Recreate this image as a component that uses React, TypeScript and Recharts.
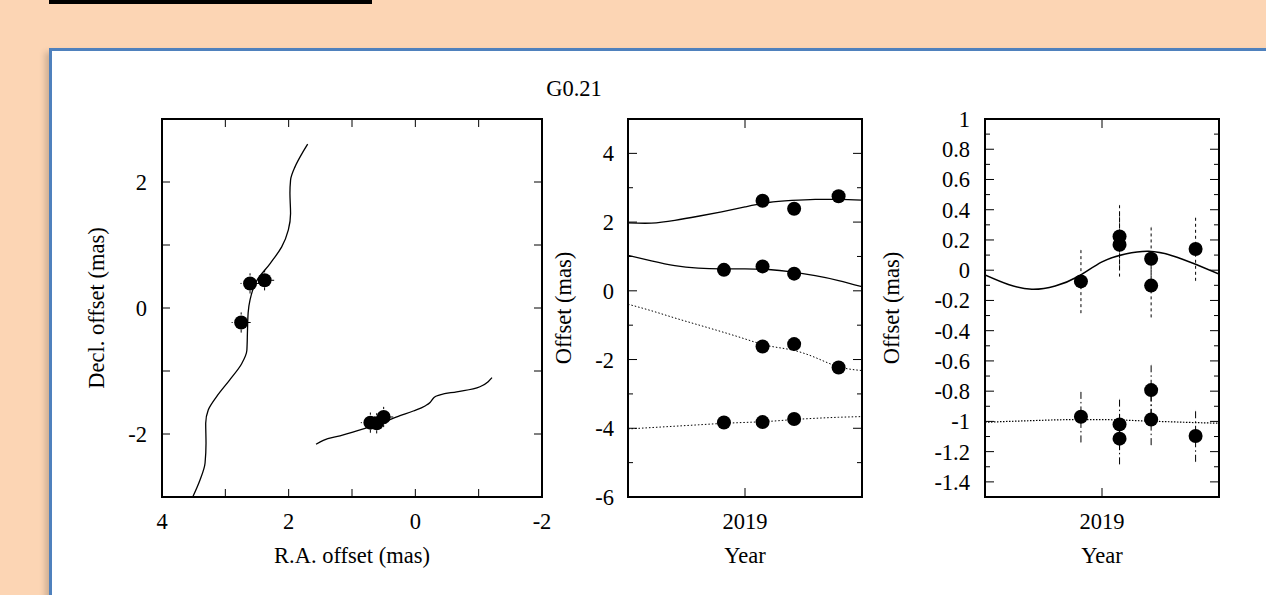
import React from 'react';
import { ComposedChart, Line, Scatter, XAxis, YAxis, ErrorBar, Label } from 'recharts';

const FONT = '"Liberation Serif", "Times New Roman", serif';
const FS = 22.5;
const INK = '#000';

// ---- left panel: sky positions (mas)
const skyRaTicks = [-2, -1, 0, 1, 2, 3, 4];
const skyRaLabels = [-2, 0, 2, 4];
const skyDecTicks = [-3, -2, -1, 0, 1, 2, 3];
const skyDecLabels = [-2, 0, 2];

const spot1Ra = [2.61, 2.38, 2.75];
const spot1Dec = [0.39, 0.44, -0.23];
const spot2Ra = [0.61, 0.71, 0.5];
const spot2Dec = [-1.83, -1.82, -1.73];
const spotErrRa = 0.15;
const spotErrDec = 0.16;

// model tracks
const track1Ra = [3.515, 3.4, 3.32, 3.305, 3.31, 3.27, 3.14, 2.93, 2.74, 2.66, 2.65, 2.64, 2.61, 2.5, 2.29, 2.11, 2.005, 1.97, 1.98, 1.97, 1.9, 1.79, 1.7];
const track1Dec = [-3.0, -2.73, -2.46, -2.145, -1.83, -1.62, -1.41, -1.14, -0.88, -0.67, -0.35, -0.08, 0.13, 0.44, 0.71, 0.97, 1.24, 1.5, 1.82, 2.03, 2.24, 2.45, 2.6];
const track2Ra = [1.568, 1.453, 1.19, 0.82, 0.558, 0.242, 0.032, -0.153, -0.232, -0.295, -0.39, -0.653, -1.02, -1.15, -1.21];
const track2Dec = [-2.163, -2.1, -2.03, -1.92, -1.83, -1.71, -1.635, -1.555, -1.5, -1.42, -1.38, -1.33, -1.25, -1.17, -1.106];

// ---- middle panel: offsets vs. time
const yearTicks = [2019];
const midTicks = [-6, -5, -4, -3, -2, -1, 0, 1, 2, 3, 4, 5];
const midLabels = [-6, -4, -2, 0, 2, 4];
const obsYears1 = [2019.075, 2019.21, 2019.4];
const obsYears2 = [2018.91, 2019.075, 2019.21];
const midRa1 = [2.62, 2.39, 2.75];
const midDec1 = [-1.62, -1.55, -2.23];
const midRa2 = [0.61, 0.71, 0.5];
const midDec2 = [-3.83, -3.82, -3.73];

const modelYears = [2018.5, 2018.6, 2018.7, 2018.8, 2018.9, 2019.0, 2019.1, 2019.2, 2019.3, 2019.4, 2019.5];
const modelRa1 = [1.98, 1.97, 2.05, 2.17, 2.3, 2.44, 2.57, 2.63, 2.66, 2.66, 2.64];
const modelRa2 = [1.03, 0.87, 0.73, 0.66, 0.64, 0.64, 0.62, 0.55, 0.44, 0.3, 0.12];
const modelDec1 = [-0.39, -0.58, -0.79, -0.99, -1.19, -1.4, -1.6, -1.72, -1.94, -2.21, -2.32];
const modelDec2 = [-4.02, -3.98, -3.94, -3.9, -3.86, -3.83, -3.8, -3.75, -3.71, -3.68, -3.66];

// ---- right panel: residual offsets
const resTicks = [-1.5, -1.4, -1.3, -1.2, -1.1, -1, -0.9, -0.8, -0.7, -0.6, -0.5, -0.4, -0.3, -0.2, -0.1, 0, 0.1, 0.2, 0.3, 0.4, 0.5, 0.6, 0.7, 0.8, 0.9, 1];
const resLabels = [-1.4, -1.2, -1, -0.8, -0.6, -0.4, -0.2, 0, 0.2, 0.4, 0.6, 0.8, 1];
const resYears = [2018.91, 2019.075, 2019.075, 2019.21, 2019.21, 2019.4];
const resRa = [-0.074, 0.223, 0.168, 0.076, -0.102, 0.14];
const resDec = [-0.969, -1.02, -1.114, -0.793, -0.987, -1.097];
const resErrRa = 0.21;
const resErrDec = 0.17;
const resModelRa = [-0.032, -0.095, -0.126, -0.104, -0.04, 0.055, 0.107, 0.125, 0.096, 0.039, -0.025];
const resModelDec = [-1.006, -1.0, -0.995, -0.99, -0.988, -0.988, -0.992, -0.998, -1.003, -1.008, -1.012];

const pts = (xs: number[], ys: number[], ex?: number, ey?: number) =>
  xs.map((x, i) => ({ x, y: ys[i], ex, ey }));

type Side = 'bottom' | 'top' | 'left' | 'right';

// draws an inward tick mark and, on the bottom/left sides, the tick label
const makeTick = (side: Side, labels: number[], len: number, minorLen: number, gap: number, showText: boolean) =>
  (props: any) => {
    const { x, y, payload } = props;
    const v = Number(payload.value);
    const major = labels.some((l) => Math.abs(l - v) < 1e-6);
    const n = major ? len : minorLen;
    let x1 = x, y1 = y, x2 = x, y2 = y;
    if (side === 'bottom') { y1 = y - gap; y2 = y1 - n; }
    if (side === 'top') { y1 = y + gap; y2 = y1 + n; }
    if (side === 'left') { x1 = x + gap; x2 = x1 + n; }
    if (side === 'right') { x1 = x - gap; x2 = x1 - n; }
    return (
      <g>
        <line x1={x1} y1={y1} x2={x2} y2={y2} stroke={INK} strokeWidth={1} />
        {showText && major && (
          <text
            x={x}
            y={y}
            dy={side === 'bottom' ? '0.71em' : '0.355em'}
            textAnchor={side === 'bottom' ? 'middle' : 'end'}
            fontSize={FS}
            fontFamily={FONT}
            fill={INK}
          >
            {String(v)}
          </text>
        )}
      </g>
    );
  };

const axisLine = { stroke: INK, strokeWidth: 2, strokeLinecap: 'square' as const };
const dotShape = (p: any) => <circle cx={p.cx} cy={p.cy} r={7} fill={INK} />;

type FrameOpts = {
  xDomain: [number, number];
  xTicks: number[];
  xLabels: number[];
  xLen: number;
  xMinor: number;
  reversed?: boolean;
  xTitle: string;
  yDomain: [number, number];
  yTicks: number[];
  yLabels: number[];
  yLen: number;
  yMinor: number;
  yGap: number;
  yWidth: number;
  yTitle: string;
};

// four axes make up the closed box with mirrored inward ticks
const frameAxes = (o: FrameOpts) => [
  <XAxis
    key="xb"
    dataKey="x"
    type="number"
    domain={o.xDomain}
    allowDataOverflow
    reversed={o.reversed}
    ticks={o.xTicks}
    interval={0}
    height={75}
    tickSize={0}
    tickMargin={16}
    tickLine={false}
    axisLine={axisLine}
    tick={makeTick('bottom', o.xLabels, o.xLen, o.xMinor, 16, true)}
  >
    <Label value={o.xTitle} position="insideBottom" offset={9} fontSize={FS} fontFamily={FONT} fill={INK} />
  </XAxis>,
  <XAxis
    key="xt"
    xAxisId="top"
    orientation="top"
    dataKey="x"
    type="number"
    domain={o.xDomain}
    allowDataOverflow
    reversed={o.reversed}
    ticks={o.xTicks}
    interval={0}
    height={1}
    tickSize={0}
    tickMargin={0}
    tickLine={false}
    axisLine={axisLine}
    tick={makeTick('top', o.xLabels, o.xLen, o.xMinor, 0, false)}
  />,
  <YAxis
    key="yl"
    type="number"
    domain={o.yDomain}
    allowDataOverflow
    ticks={o.yTicks}
    interval={0}
    width={o.yWidth}
    tickSize={0}
    tickMargin={o.yGap}
    tickLine={false}
    axisLine={axisLine}
    tick={makeTick('left', o.yLabels, o.yLen, o.yMinor, o.yGap, true)}
  >
    <Label value={o.yTitle} angle={-90} position="center" fontSize={FS} fontFamily={FONT} fill={INK} />
  </YAxis>,
  <YAxis
    key="yr"
    yAxisId="right"
    orientation="right"
    type="number"
    domain={o.yDomain}
    allowDataOverflow
    ticks={o.yTicks}
    interval={0}
    width={1}
    tickSize={0}
    tickMargin={0}
    tickLine={false}
    axisLine={axisLine}
    tick={makeTick('right', o.yLabels, o.yLen, o.yMinor, 0, false)}
  />,
];

// top/right axes take 1px each, so the box stays where it was measured
const MARGIN = { top: 18, right: 9, bottom: 5, left: 0 };
const CHART_H = 477;

const lineProps = {
  dataKey: 'y',
  stroke: INK,
  dot: false,
  activeDot: false,
  isAnimationActive: false,
  legendType: 'none' as const,
};

const SkyPanel = () => (
  <ComposedChart width={522} height={CHART_H} margin={MARGIN}>
    {frameAxes({
      xDomain: [-2, 4],
      xTicks: skyRaTicks,
      xLabels: skyRaLabels,
      xLen: 8,
      xMinor: 8,
      reversed: true,
      xTitle: 'R.A. offset (mas)',
      yDomain: [-3, 3],
      yTicks: skyDecTicks,
      yLabels: skyDecLabels,
      yLen: 8,
      yMinor: 8,
      yGap: 15,
      yWidth: 132,
      yTitle: 'Decl. offset (mas)',
    })}
    <Line {...lineProps} data={pts(track1Ra, track1Dec)} type="monotoneY" strokeWidth={1.3} />
    <Line {...lineProps} data={pts(track2Ra, track2Dec)} type="monotoneX" strokeWidth={1.3} />
    <Scatter data={pts(spot1Ra, spot1Dec, spotErrRa, spotErrDec)} dataKey="y" shape={dotShape} isAnimationActive={false}>
      <ErrorBar dataKey="ex" direction="x" width={0} stroke={INK} strokeWidth={1} strokeDasharray="3 3" />
      <ErrorBar dataKey="ey" direction="y" width={0} stroke={INK} strokeWidth={1} strokeDasharray="3 3" />
    </Scatter>
    <Scatter data={pts(spot2Ra, spot2Dec, spotErrRa, spotErrDec)} dataKey="y" shape={dotShape} isAnimationActive={false}>
      <ErrorBar dataKey="ex" direction="x" width={0} stroke={INK} strokeWidth={1} strokeDasharray="3 3" />
      <ErrorBar dataKey="ey" direction="y" width={0} stroke={INK} strokeWidth={1} strokeDasharray="3 3" />
    </Scatter>
  </ComposedChart>
);

const TimePanel = () => (
  <ComposedChart width={373} height={CHART_H} margin={MARGIN}>
    {frameAxes({
      xDomain: [2018.5, 2019.5],
      xTicks: yearTicks,
      xLabels: yearTicks,
      xLen: 9,
      xMinor: 5,
      xTitle: 'Year',
      yDomain: [-6, 5],
      yTicks: midTicks,
      yLabels: midLabels,
      yLen: 9,
      yMinor: 5,
      yGap: 14,
      yWidth: 129,
      yTitle: 'Offset (mas)',
    })}
    <Line {...lineProps} data={pts(modelYears, modelRa1)} type="natural" strokeWidth={1.3} />
    <Line {...lineProps} data={pts(modelYears, modelRa2)} type="natural" strokeWidth={1.3} />
    <Line {...lineProps} data={pts(modelYears, modelDec1)} type="natural" strokeWidth={1} strokeDasharray="1.5 2" />
    <Line {...lineProps} data={pts(modelYears, modelDec2)} type="natural" strokeWidth={1} strokeDasharray="1.5 2" />
    <Scatter data={pts(obsYears1, midRa1)} dataKey="y" shape={dotShape} isAnimationActive={false} />
    <Scatter data={pts(obsYears2, midRa2)} dataKey="y" shape={dotShape} isAnimationActive={false} />
    <Scatter data={pts(obsYears1, midDec1)} dataKey="y" shape={dotShape} isAnimationActive={false} />
    <Scatter data={pts(obsYears2, midDec2)} dataKey="y" shape={dotShape} isAnimationActive={false} />
  </ComposedChart>
);

const ResidualPanel = () => (
  <ComposedChart width={432} height={CHART_H} margin={MARGIN}>
    {frameAxes({
      xDomain: [2018.5, 2019.5],
      xTicks: yearTicks,
      xLabels: yearTicks,
      xLen: 9,
      xMinor: 5,
      xTitle: 'Year',
      yDomain: [-1.5, 1],
      yTicks: resTicks,
      yLabels: resLabels,
      yLen: 9,
      yMinor: 5,
      yGap: 15,
      yWidth: 188,
      yTitle: 'Offset (mas)',
    })}
    <Line {...lineProps} data={pts(modelYears, resModelRa)} type="natural" strokeWidth={1.5} />
    <Line {...lineProps} data={pts(modelYears, resModelDec)} type="natural" strokeWidth={1.2} strokeDasharray="1.5 1.5" />
    <Scatter data={pts(resYears, resRa, undefined, resErrRa)} dataKey="y" shape={dotShape} isAnimationActive={false}>
      <ErrorBar dataKey="ey" direction="y" width={0} stroke={INK} strokeWidth={1} strokeDasharray="3 3" />
    </Scatter>
    <Scatter data={pts(resYears, resDec, undefined, resErrDec)} dataKey="y" shape={dotShape} isAnimationActive={false}>
      <ErrorBar dataKey="ey" direction="y" width={0} stroke={INK} strokeWidth={1} strokeDasharray="7 3 1.5 3" />
    </Scatter>
  </ComposedChart>
);

export default function App() {
  return (
    <div
      style={{
        position: 'absolute',
        left: 0,
        top: 0,
        width: 1266,
        height: 595,
        overflow: 'hidden',
        background: '#FCD5B4',
        fontFamily: FONT,
      }}
    >
      <div style={{ position: 'absolute', left: 49, top: 0, width: 323, height: 4, background: '#000' }} />
      <div
        style={{
          position: 'absolute',
          left: 49,
          top: 48,
          width: 1300,
          height: 700,
          background: '#fff',
          border: '3px solid #4F81BD',
          boxShadow: '-4px 4px 6px rgba(0,0,0,0.18)',
        }}
      />
      <svg width={1266} height={595} style={{ position: 'absolute', left: 0, top: 0, pointerEvents: 'none' }}>
        <text x={574} y={96} textAnchor="middle" fontSize={FS} fontFamily={FONT} fill={INK}>
          G0.21
        </text>
      </svg>
      <div style={{ position: 'absolute', left: 30, top: 100 }}>
        <SkyPanel />
      </div>
      <div style={{ position: 'absolute', left: 499, top: 100 }}>
        <TimePanel />
      </div>
      <div style={{ position: 'absolute', left: 797, top: 100 }}>
        <ResidualPanel />
      </div>
    </div>
  );
}
